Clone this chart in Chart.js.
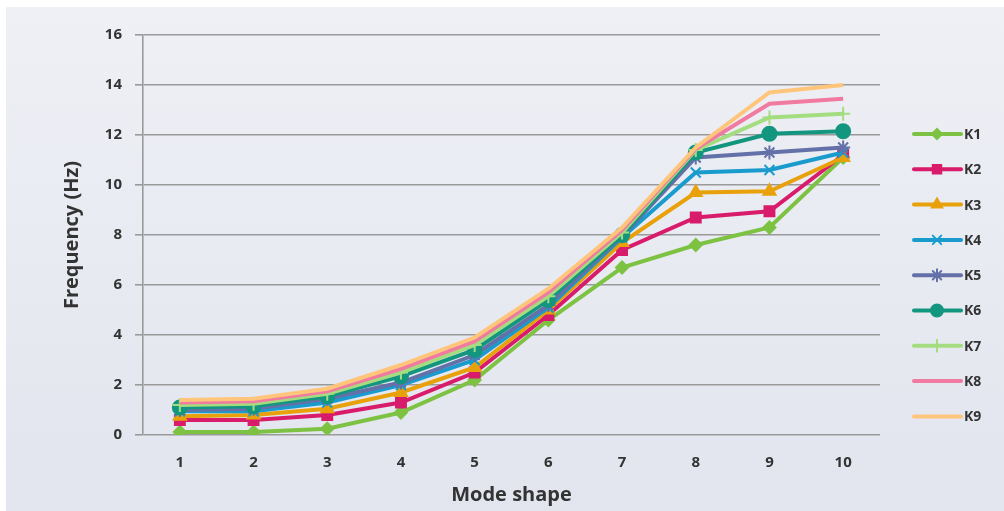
<!DOCTYPE html>
<html>
<head>
<meta charset="utf-8">
<script src="https://cdn.jsdelivr.net/npm/chart.js@4/dist/chart.umd.min.js"></script>
<style>
  html, body { margin: 0; padding: 0; background: #fff; }
  #wrap { width: 1004px; height: 511px; }
</style>
</head>
<body>
<div id="wrap"><canvas id="grafico" width="1004" height="511"></canvas></div>
<script>
const categorias = ["1", "2", "3", "4", "5", "6", "7", "8", "9", "10"];
const ticksY = [0, 2, 4, 6, 8, 10, 12, 14, 16];
const nombres = ["K1", "K2", "K3", "K4", "K5", "K6", "K7", "K8", "K9"];

const k1 = [0.12, 0.12, 0.25, 0.9, 2.2, 4.6, 6.7, 7.6, 8.3, 11.1];
const k2 = [0.6, 0.6, 0.8, 1.3, 2.5, 4.8, 7.4, 8.7, 8.95, 11.2];
const k3 = [0.75, 0.8, 1.05, 1.7, 2.7, 5.0, 7.7, 9.7, 9.75, 11.1];
const k4 = [0.95, 0.95, 1.3, 2.0, 3.0, 5.1, 7.9, 10.5, 10.6, 11.3];
const k5 = [1.0, 1.05, 1.45, 2.1, 3.2, 5.2, 7.95, 11.1, 11.3, 11.5];
const k6 = [1.1, 1.15, 1.55, 2.35, 3.4, 5.4, 8.0, 11.3, 12.05, 12.15];
const k7 = [1.2, 1.25, 1.65, 2.5, 3.6, 5.55, 8.1, 11.4, 12.7, 12.85];
const k8 = [1.3, 1.35, 1.75, 2.65, 3.75, 5.7, 8.2, 11.45, 13.25, 13.45];
const k9 = [1.4, 1.45, 1.85, 2.8, 3.9, 5.85, 8.3, 11.5, 13.7, 14.0];

const series = [k1, k2, k3, k4, k5, k6, k7, k8, k9];
const colores = ["#7dc242", "#d81b6a", "#e9a10b", "#1a9bcd", "#6470a8", "#13967f", "#a4dd7f", "#f07aa0", "#ffc67b"];
const marcadores = ["rectRot", "rect", "triangle", "crossRot", "star", "circle", "cross", false, false];
const radios = [6, 7, 7, 7, 7, 7, 7, 0, 0];

const fuente = "'Open Sans', 'Liberation Sans', sans-serif";

// fondo con degradado y borde blanco
const fondo = {
  id: "fondo",
  beforeDraw(chart) {
    const ctx = chart.ctx;
    ctx.save();
    ctx.fillStyle = "#ffffff";
    ctx.fillRect(0, 0, chart.width, chart.height);
    const g = ctx.createLinearGradient(0, 7, 0, chart.height);
    g.addColorStop(0, "#eef0f5");
    g.addColorStop(1, "#e2e5ee");
    ctx.fillStyle = g;
    ctx.fillRect(6, 7, chart.width - 6, chart.height - 7);
    ctx.restore();
  }
};

// leyenda con linea + marcador
const leyenda = {
  id: "leyenda",
  afterDraw(chart) {
    const ctx = chart.ctx;
    ctx.save();
    chart.data.datasets.forEach((ds, i) => {
      const y = 134 + i * 35.3;
      ctx.strokeStyle = ds.borderColor;
      ctx.lineWidth = 4;
      ctx.lineCap = "round";
      ctx.beginPath();
      ctx.moveTo(914, y);
      ctx.lineTo(961, y);
      ctx.stroke();
      if (ds.pointStyle) {
        ctx.fillStyle = ds.borderColor;
        ctx.strokeStyle = ds.borderColor;
        ctx.lineWidth = 2;
        Chart.helpers.drawPoint(ctx, { pointStyle: ds.pointStyle, radius: ds.pointRadius - 1, rotation: 0, borderWidth: 2 }, 937, y);
      }
      ctx.fillStyle = "#333333";
      ctx.font = "bold 14px " + fuente;
      ctx.textBaseline = "middle";
      ctx.textAlign = "left";
      ctx.fillText(ds.label, 964, y + 1);
    });
    ctx.restore();
  }
};

const datasets = series.map((valores, i) => ({
  label: nombres[i],
  data: valores,
  borderColor: colores[i],
  backgroundColor: colores[i],
  borderWidth: 4,
  pointStyle: marcadores[i],
  pointRadius: radios[i],
  pointBorderWidth: 2,
  pointHoverRadius: radios[i],
  tension: 0,
  order: series.length - i
}));

new Chart(document.getElementById("grafico").getContext("2d"), {
  type: "line",
  data: { labels: categorias, datasets: datasets },
  options: {
    responsive: false,
    animation: false,
    layout: { padding: { top: 35, right: 124, left: 0, bottom: 0 } },
    plugins: { legend: { display: false }, tooltip: { enabled: false } },
    scales: {
      x: {
        offset: true,
        afterFit: s => { s.height = 76; },
        grid: { display: false, drawTicks: false, offset: true },
        border: { display: false },
        ticks: { padding: 19, color: "#333333", font: { family: fuente, size: 15, weight: "bold" } },
        title: { display: true, text: "Mode shape", color: "#333333", padding: { top: 4, bottom: 4 }, font: { family: fuente, size: 20, weight: "bold" } }
      },
      y: {
        min: 0,
        max: 16,
        afterFit: s => { s.width = 143; },
        afterBuildTicks: s => { s.ticks = ticksY.map(v => ({ value: v })); },
        grid: { color: "#9a9a9a", lineWidth: 1.6, tickLength: 8 },
        border: { display: true, color: "#9a9a9a", width: 1.6 },
        ticks: { padding: 13, color: "#333333", font: { family: fuente, size: 15, weight: "bold" } },
        title: { display: true, text: "Frequency (Hz)", color: "#333333", padding: { top: 60, bottom: 60 }, font: { family: fuente, size: 20, weight: "bold" } }
      }
    }
  },
  plugins: [fondo, leyenda]
});
</script>
</body>
</html>
